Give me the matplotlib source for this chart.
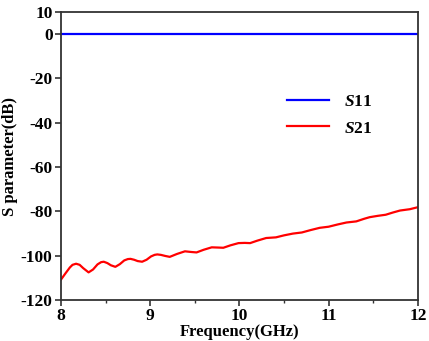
import numpy as np
import matplotlib.pyplot as plt
from matplotlib.ticker import MultipleLocator

# S21 (GHz, dB)
freq_s21 = [8.00, 8.05, 8.10, 8.13, 8.17, 8.21, 8.25, 8.31, 8.36, 8.41,
            8.45, 8.48, 8.52, 8.56, 8.61, 8.66, 8.71, 8.75, 8.78, 8.82,
            8.86, 8.91, 8.96, 9.01, 9.05, 9.08, 9.12, 9.17, 9.22, 9.30,
            9.39, 9.46, 9.52, 9.60, 9.69, 9.76, 9.82, 9.90, 9.99, 10.06,
            10.12, 10.20, 10.30, 10.41, 10.50, 10.60, 10.70, 10.80, 10.90, 11.00,
            11.10, 11.20, 11.31, 11.40, 11.46, 11.55, 11.64, 11.72, 11.80, 11.91,
            12.00]
s21 = [-110.8, -108.0, -105.3, -104.1, -103.6, -104.1, -105.6, -107.5, -106.2, -103.9,
       -102.9, -102.7, -103.3, -104.3, -105.0, -103.8, -102.1, -101.5, -101.4, -101.8,
       -102.4, -102.7, -101.8, -100.3, -99.6, -99.4, -99.6, -100.1, -100.5, -99.2,
       -98.0, -98.3, -98.5, -97.3, -96.2, -96.3, -96.4, -95.3, -94.3, -94.2,
       -94.3, -93.2, -92.0, -91.7, -90.8, -90.0, -89.5, -88.4, -87.4, -86.9,
       -85.9, -85.0, -84.5, -83.3, -82.6, -82.0, -81.5, -80.5, -79.6, -79.0,
       -78.1]

freq_s11 = [8.0, 12.0]
s11 = [0.0, 0.0]

x_ticks = [8, 9, 10, 11, 12]
y_ticks = [10, 0, -20, -40, -60, -80, -100, -120]

plt.rcParams['font.family'] = ['Liberation Serif', 'DejaVu Serif']
plt.rcParams['font.weight'] = 'bold'
plt.rcParams['axes.unicode_minus'] = False
plt.rcParams['mathtext.fontset'] = 'custom'
plt.rcParams['mathtext.rm'] = 'Liberation Serif:bold'
plt.rcParams['mathtext.it'] = 'Liberation Serif:bold:italic'

fig = plt.figure(figsize=(4.29, 3.41), dpi=100)
ax = fig.add_axes([0.142, 0.120, 0.832, 0.845])

ax.plot(freq_s11, s11, color='#0000ff', linewidth=1.6, label=r'$\mathit{S}$11')
ax.plot(freq_s21, s21, color='#ff0000', linewidth=1.6, label=r'$\mathit{S}$21')

ax.set_xlim(8, 12)
ax.set_ylim(-120, 10)
ax.set_xticks(x_ticks)
ax.set_yticks(y_ticks)
ax.xaxis.set_minor_locator(MultipleLocator(0.5))

for side in ax.spines.values():
    side.set_color('#333333')
    side.set_linewidth(1.3)
ax.tick_params(which='major', direction='out', length=4, width=1.2,
               color='#333333', labelsize=12.5, pad=2)
ax.tick_params(which='minor', direction='out', length=2, width=1.0, color='#333333')

ax.set_xlabel('Frequency(GHz)', fontsize=12, fontweight='bold', labelpad=0)
ax.set_ylabel('S parameter(dB)', fontsize=12, fontweight='bold')
ax.yaxis.set_label_coords(-0.12, 0.5)

ax.legend(loc='upper left', bbox_to_anchor=(0.59, 0.77), frameon=False,
          fontsize=12.5, handlelength=2.4, labelspacing=0.6, handletextpad=0.9)

fig.savefig('out.png', dpi=100)
